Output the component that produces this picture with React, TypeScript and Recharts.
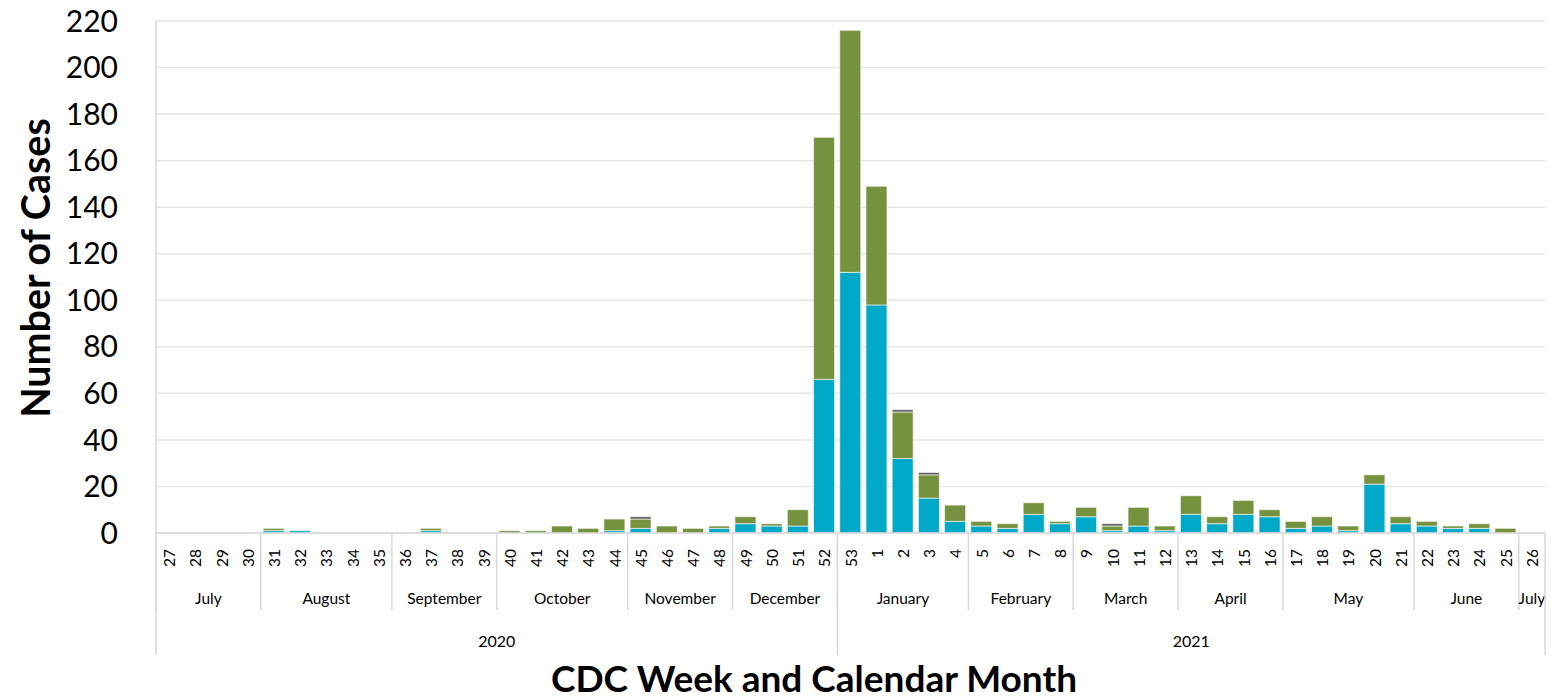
import React from 'react';
import { BarChart, Bar, XAxis, YAxis, CartesianGrid } from 'recharts';

// CDC weeks, 27 (2020) through 26 (2021)
const weeks = [
  '27', '28', '29', '30', '31', '32', '33', '34', '35', '36', '37', '38', '39', '40',
  '41', '42', '43', '44', '45', '46', '47', '48', '49', '50', '51', '52', '53',
  '1', '2', '3', '4', '5', '6', '7', '8', '9', '10', '11', '12', '13', '14',
  '15', '16', '17', '18', '19', '20', '21', '22', '23', '24', '25', '26',
];

const tealCases = [
  0, 0, 0, 0, 1, 1, 0, 0, 0, 0, 1, 0, 0, 0, 0, 0, 0, 1, 2, 0, 0, 2, 4, 3, 3, 66, 112,
  98, 32, 15, 5, 3, 2, 8, 4, 7, 1, 3, 1, 8, 4, 8, 7, 2, 3, 1, 21, 4, 3, 2, 2, 0, 0,
];
const greenCases = [
  0, 0, 0, 0, 1, 0, 0, 0, 0, 0, 1, 0, 0, 1, 1, 3, 2, 5, 4, 3, 2, 1, 3, 1, 7, 104, 104,
  51, 20, 10, 7, 2, 2, 5, 1, 4, 2, 8, 2, 8, 3, 6, 3, 3, 4, 2, 4, 3, 2, 1, 2, 2, 0,
];
const greyCases = [
  0, 0, 0, 0, 0, 0, 0, 0, 0, 0, 0, 0, 0, 0, 0, 0, 0, 0, 1, 0, 0, 0, 0, 0, 0, 0, 0,
  0, 1, 1, 0, 0, 0, 0, 0, 0, 1, 0, 0, 0, 0, 0, 0, 0, 0, 0, 0, 0, 0, 0, 0, 0, 0,
];

const months = [
  'July', 'August', 'September', 'October', 'November', 'December',
  'January', 'February', 'March', 'April', 'May', 'June', 'July',
];
const monthSpans = [4, 5, 4, 5, 4, 4, 5, 4, 4, 4, 5, 4, 1];
const years = ['2020', '2021'];
const yearSpans = [26, 27];
const yTicks = [0, 20, 40, 60, 80, 100, 120, 140, 160, 180, 200, 220];

const FONT = 'Lato, "Open Sans", sans-serif';
const SEP = '#d9d9d9';

const data = weeks.map((w, i) => ({
  week: w,
  teal: tealCases[i],
  green: greenCases[i],
  grey: greyCases[i],
}));

// index -> group lookups
const groupStarts = (spans: number[]) => {
  const m: Record<number, number> = {};
  let s = 0;
  spans.forEach((n, g) => { m[s] = g; s += n; });
  return m;
};
const monthStart = groupStarts(monthSpans);
const yearStart = groupStarts(yearSpans);

const WeekTick = (props: any) => {
  const { x, y, payload, index } = props;
  const half = payload.offset || 13.1;
  const out: React.ReactNode[] = [];
  out.push(
    <text key="w" x={x} y={y + 16} transform={`rotate(-90 ${x} ${y + 16})`}
      textAnchor="end" dominantBaseline="central" fontSize={15.5} fontFamily={FONT} fill="#000">
      {payload.value}
    </text>
  );
  const left = x - half;
  if (monthStart[index] !== undefined) {
    const g = monthStart[index];
    out.push(<line key="ml" x1={left} x2={left} y1={y} y2={y + 77} stroke={SEP} strokeWidth={1.5} />);
    out.push(
      <text key="m" x={left + monthSpans[g] * half} y={y + 65} textAnchor="middle"
        dominantBaseline="central" fontSize={15.5} fontFamily={FONT} fill="#000">
        {months[g]}
      </text>
    );
  }
  if (yearStart[index] !== undefined) {
    const g = yearStart[index];
    out.push(<line key="yl" x1={left} x2={left} y1={y} y2={y + 122} stroke={SEP} strokeWidth={1.5} />);
    out.push(
      <text key="y" x={left + yearSpans[g] * half} y={y + 107} textAnchor="middle"
        dominantBaseline="central" fontSize={16} fontFamily={FONT} fill="#000">
        {years[g]}
      </text>
    );
  }
  if (index === weeks.length - 1) {
    const right = x + half;
    out.push(<line key="end" x1={right} x2={right} y1={y} y2={y + 122} stroke={SEP} strokeWidth={1.5} />);
  }
  return <g>{out}</g>;
};

export default function App() {
  return (
    <div style={{ position: 'absolute', left: 0, top: 0, width: 1551, height: 699, background: '#fff' }}>
      <BarChart
        width={1551}
        height={699}
        data={data}
        margin={{ top: 21, right: 6, left: 0, bottom: 0 }}
        barCategoryGap="9%"
      >
        <CartesianGrid vertical={false} stroke="#e6e6e6" strokeWidth={1.5} />
        <XAxis
          dataKey="week"
          interval={0}
          height={166}
          tickLine={false}
          tickSize={0}
          tickMargin={0}
          axisLine={{ stroke: SEP, strokeWidth: 1.5 }}
          tick={WeekTick}
          label={() => (
            <text x={814} y={677} textAnchor="middle" dominantBaseline="central"
              fontSize={37} fontWeight="bold" fontFamily={FONT} fill="#000">
              CDC Week and Calendar Month
            </text>
          )}
        />
        <YAxis
          width={156}
          domain={[0, 220]}
          ticks={yTicks}
          interval={0}
          tickLine={false}
          tickSize={0}
          tickMargin={38}
          axisLine={{ stroke: SEP, strokeWidth: 1.5 }}
          tick={{ fontSize: 30, fill: '#000', fontFamily: FONT }}
          label={() => (
            <text x={34} y={268} transform="rotate(-90 34 268)" textAnchor="middle"
              dominantBaseline="central" fontSize={39.5} fontWeight="bold" fontFamily={FONT} fill="#000">
              Number of Cases
            </text>
          )}
        />
        <Bar dataKey="teal" stackId="a" fill="#00a9c7" stroke="#ffffff" strokeOpacity={0.6} strokeWidth={1} isAnimationActive={false} />
        <Bar dataKey="green" stackId="a" fill="#77923f" stroke="#ffffff" strokeOpacity={0.6} strokeWidth={1} isAnimationActive={false} />
        <Bar dataKey="grey" stackId="a" fill="#595959" stroke="#ffffff" strokeOpacity={0.6} strokeWidth={1} isAnimationActive={false} />
      </BarChart>
    </div>
  );
}
